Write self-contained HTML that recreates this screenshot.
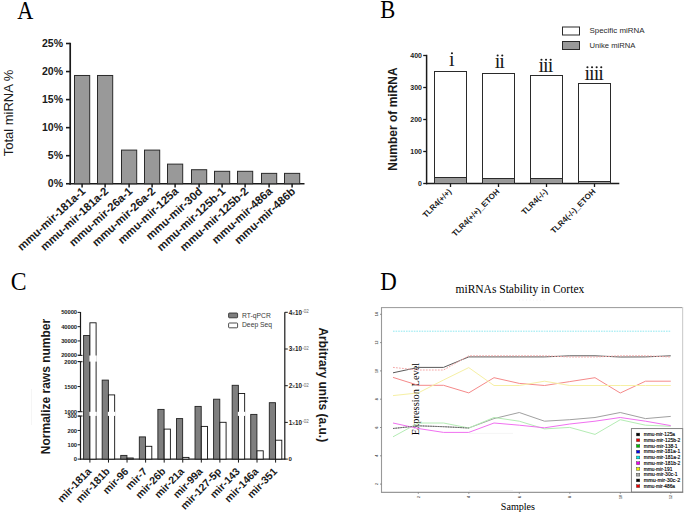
<!DOCTYPE html>
<html><head><meta charset="utf-8"><title>Figure</title>
<style>html,body{margin:0;padding:0;background:#fff;} svg{display:block;}</style>
</head><body>
<svg width="685" height="514" viewBox="0 0 685 514">
<rect width="685" height="514" fill="#fff"/>
<text transform="translate(17.3,18.75) scale(0.92,1)" font-family='"Liberation Serif", serif' font-size="24.2" fill="#000">A</text>
<line x1="70.2" y1="42.8" x2="70.2" y2="184.55" stroke="#1a1a1a" stroke-width="1.7"/>
<line x1="69.4" y1="183.75" x2="304.5" y2="183.75" stroke="#1a1a1a" stroke-width="1.7"/>
<line x1="66" y1="183.75" x2="70.2" y2="183.75" stroke="#1a1a1a" stroke-width="1.6"/>
<text x="63" y="186.85" text-anchor="end" font-family='"Liberation Sans", sans-serif' font-size="10.5" font-weight="bold" fill="#1a1a1a">0%</text>
<line x1="66" y1="155.7" x2="70.2" y2="155.7" stroke="#1a1a1a" stroke-width="1.6"/>
<text x="63" y="158.8" text-anchor="end" font-family='"Liberation Sans", sans-serif' font-size="10.5" font-weight="bold" fill="#1a1a1a">5%</text>
<line x1="66" y1="127.65" x2="70.2" y2="127.65" stroke="#1a1a1a" stroke-width="1.6"/>
<text x="63" y="130.75" text-anchor="end" font-family='"Liberation Sans", sans-serif' font-size="10.5" font-weight="bold" fill="#1a1a1a">10%</text>
<line x1="66" y1="99.6" x2="70.2" y2="99.6" stroke="#1a1a1a" stroke-width="1.6"/>
<text x="63" y="102.7" text-anchor="end" font-family='"Liberation Sans", sans-serif' font-size="10.5" font-weight="bold" fill="#1a1a1a">15%</text>
<line x1="66" y1="71.55" x2="70.2" y2="71.55" stroke="#1a1a1a" stroke-width="1.6"/>
<text x="63" y="74.65" text-anchor="end" font-family='"Liberation Sans", sans-serif' font-size="10.5" font-weight="bold" fill="#1a1a1a">20%</text>
<line x1="66" y1="43.5" x2="70.2" y2="43.5" stroke="#1a1a1a" stroke-width="1.6"/>
<text x="63" y="46.6" text-anchor="end" font-family='"Liberation Sans", sans-serif' font-size="10.5" font-weight="bold" fill="#1a1a1a">25%</text>
<rect x="74.5" y="75.48" width="15.2" height="108.27" fill="#999" stroke="#2a2a2a" stroke-width="1"/>
<line x1="82.1" y1="183.75" x2="82.1" y2="187.55" stroke="#1a1a1a" stroke-width="1.5"/>
<text transform="translate(86.1,192.25) rotate(-42.5)" text-anchor="end" font-family='"Liberation Sans", sans-serif' font-size="11.3" font-weight="bold" fill="#1a1a1a">mmu-mir-181a-1</text>
<rect x="97.5" y="75.48" width="15.2" height="108.27" fill="#999" stroke="#2a2a2a" stroke-width="1"/>
<line x1="105.1" y1="183.75" x2="105.1" y2="187.55" stroke="#1a1a1a" stroke-width="1.5"/>
<text transform="translate(109.1,192.25) rotate(-42.5)" text-anchor="end" font-family='"Liberation Sans", sans-serif' font-size="11.3" font-weight="bold" fill="#1a1a1a">mmu-mir-181a-2</text>
<rect x="121.5" y="150.09" width="15.2" height="33.66" fill="#999" stroke="#2a2a2a" stroke-width="1"/>
<line x1="129.1" y1="183.75" x2="129.1" y2="187.55" stroke="#1a1a1a" stroke-width="1.5"/>
<text transform="translate(133.1,192.25) rotate(-42.5)" text-anchor="end" font-family='"Liberation Sans", sans-serif' font-size="11.3" font-weight="bold" fill="#1a1a1a">mmu-mir-26a-1</text>
<rect x="144.5" y="150.09" width="15.2" height="33.66" fill="#999" stroke="#2a2a2a" stroke-width="1"/>
<line x1="152.1" y1="183.75" x2="152.1" y2="187.55" stroke="#1a1a1a" stroke-width="1.5"/>
<text transform="translate(156.1,192.25) rotate(-42.5)" text-anchor="end" font-family='"Liberation Sans", sans-serif' font-size="11.3" font-weight="bold" fill="#1a1a1a">mmu-mir-26a-2</text>
<rect x="167.5" y="164.12" width="15.2" height="19.63" fill="#999" stroke="#2a2a2a" stroke-width="1"/>
<line x1="175.1" y1="183.75" x2="175.1" y2="187.55" stroke="#1a1a1a" stroke-width="1.5"/>
<text transform="translate(179.1,192.25) rotate(-42.5)" text-anchor="end" font-family='"Liberation Sans", sans-serif' font-size="11.3" font-weight="bold" fill="#1a1a1a">mmu-mir-125a</text>
<rect x="191.5" y="169.72" width="15.2" height="14.03" fill="#999" stroke="#2a2a2a" stroke-width="1"/>
<line x1="199.1" y1="183.75" x2="199.1" y2="187.55" stroke="#1a1a1a" stroke-width="1.5"/>
<text transform="translate(203.1,192.25) rotate(-42.5)" text-anchor="end" font-family='"Liberation Sans", sans-serif' font-size="11.3" font-weight="bold" fill="#1a1a1a">mmu-mir-30d</text>
<rect x="214.5" y="171.3" width="15.2" height="12.45" fill="#999" stroke="#2a2a2a" stroke-width="1"/>
<line x1="222.1" y1="183.75" x2="222.1" y2="187.55" stroke="#1a1a1a" stroke-width="1.5"/>
<text transform="translate(226.1,192.25) rotate(-42.5)" text-anchor="end" font-family='"Liberation Sans", sans-serif' font-size="11.3" font-weight="bold" fill="#1a1a1a">mmu-mir-125b-1</text>
<rect x="237.5" y="171.3" width="15.2" height="12.45" fill="#999" stroke="#2a2a2a" stroke-width="1"/>
<line x1="245.1" y1="183.75" x2="245.1" y2="187.55" stroke="#1a1a1a" stroke-width="1.5"/>
<text transform="translate(249.1,192.25) rotate(-42.5)" text-anchor="end" font-family='"Liberation Sans", sans-serif' font-size="11.3" font-weight="bold" fill="#1a1a1a">mmu-mir-125b-2</text>
<rect x="261.5" y="173.37" width="15.2" height="10.38" fill="#999" stroke="#2a2a2a" stroke-width="1"/>
<line x1="269.1" y1="183.75" x2="269.1" y2="187.55" stroke="#1a1a1a" stroke-width="1.5"/>
<text transform="translate(273.1,192.25) rotate(-42.5)" text-anchor="end" font-family='"Liberation Sans", sans-serif' font-size="11.3" font-weight="bold" fill="#1a1a1a">mmu-mir-486a</text>
<rect x="284.5" y="173.37" width="15.2" height="10.38" fill="#999" stroke="#2a2a2a" stroke-width="1"/>
<line x1="292.1" y1="183.75" x2="292.1" y2="187.55" stroke="#1a1a1a" stroke-width="1.5"/>
<text transform="translate(296.1,192.25) rotate(-42.5)" text-anchor="end" font-family='"Liberation Sans", sans-serif' font-size="11.3" font-weight="bold" fill="#1a1a1a">mmu-mir-486b</text>
<text transform="translate(13.2,113) rotate(-90)" text-anchor="middle" font-family='"Liberation Sans", sans-serif' font-size="13" fill="#1a1a1a">Total miRNA %</text>
<text transform="translate(380.3,17.75) scale(0.91,1)" font-family='"Liberation Serif", serif' font-size="24.8" fill="#000">B</text>
<line x1="426.6" y1="54.8" x2="426.6" y2="184.3" stroke="#1a1a1a" stroke-width="1.5"/>
<line x1="425.90000000000003" y1="183.5" x2="619.3" y2="183.5" stroke="#1a1a1a" stroke-width="1.5"/>
<line x1="423.2" y1="183.5" x2="426.6" y2="183.5" stroke="#1a1a1a" stroke-width="1.3"/>
<text x="422" y="186" text-anchor="end" font-family='"Liberation Sans", sans-serif' font-size="7" font-weight="bold" fill="#1a1a1a">0</text>
<line x1="423.2" y1="151.5" x2="426.6" y2="151.5" stroke="#1a1a1a" stroke-width="1.3"/>
<text x="422" y="154" text-anchor="end" font-family='"Liberation Sans", sans-serif' font-size="7" font-weight="bold" fill="#1a1a1a">100</text>
<line x1="423.2" y1="119.5" x2="426.6" y2="119.5" stroke="#1a1a1a" stroke-width="1.3"/>
<text x="422" y="122" text-anchor="end" font-family='"Liberation Sans", sans-serif' font-size="7" font-weight="bold" fill="#1a1a1a">200</text>
<line x1="423.2" y1="87.5" x2="426.6" y2="87.5" stroke="#1a1a1a" stroke-width="1.3"/>
<text x="422" y="90" text-anchor="end" font-family='"Liberation Sans", sans-serif' font-size="7" font-weight="bold" fill="#1a1a1a">300</text>
<line x1="423.2" y1="55.5" x2="426.6" y2="55.5" stroke="#1a1a1a" stroke-width="1.3"/>
<text x="422" y="58" text-anchor="end" font-family='"Liberation Sans", sans-serif' font-size="7" font-weight="bold" fill="#1a1a1a">400</text>
<rect x="434.5" y="71.5" width="32" height="112" fill="#fff" stroke="#2a2a2a" stroke-width="1"/>
<rect x="434.5" y="177.5" width="32" height="6" fill="#999" stroke="#2a2a2a" stroke-width="1"/>
<line x1="450.5" y1="183.5" x2="450.5" y2="187.0" stroke="#1a1a1a" stroke-width="1.3"/>
<text transform="translate(452,192.1) rotate(-45)" text-anchor="end" font-family='"Liberation Sans", sans-serif' font-size="8" font-weight="bold" fill="#1a1a1a">TLR4(+/+)</text>
<text x="451.8" y="65.9" text-anchor="middle" font-family='"Liberation Serif", serif' font-size="20" fill="#1a1a1a">&#305;</text>
<circle cx="451.95" cy="53.3" r="1.05" fill="#1a1a1a"/>
<rect x="482.5" y="73.5" width="32" height="110" fill="#fff" stroke="#2a2a2a" stroke-width="1"/>
<rect x="482.5" y="178.5" width="32" height="5" fill="#999" stroke="#2a2a2a" stroke-width="1"/>
<line x1="498.5" y1="183.5" x2="498.5" y2="187.0" stroke="#1a1a1a" stroke-width="1.3"/>
<text transform="translate(500,192.1) rotate(-45)" text-anchor="end" font-family='"Liberation Sans", sans-serif' font-size="8" font-weight="bold" fill="#1a1a1a">TLR4(+/+)_ETOH</text>
<text x="497.5" y="68.1" text-anchor="middle" font-family='"Liberation Serif", serif' font-size="20" fill="#1a1a1a">&#305;</text>
<circle cx="497.65" cy="55.5" r="1.05" fill="#1a1a1a"/>
<text x="502.1" y="68.1" text-anchor="middle" font-family='"Liberation Serif", serif' font-size="20" fill="#1a1a1a">&#305;</text>
<circle cx="502.25" cy="55.5" r="1.05" fill="#1a1a1a"/>
<rect x="530.5" y="75.5" width="32" height="108" fill="#fff" stroke="#2a2a2a" stroke-width="1"/>
<rect x="530.5" y="178.5" width="32" height="5" fill="#999" stroke="#2a2a2a" stroke-width="1"/>
<line x1="546.5" y1="183.5" x2="546.5" y2="187.0" stroke="#1a1a1a" stroke-width="1.3"/>
<text transform="translate(548,192.1) rotate(-45)" text-anchor="end" font-family='"Liberation Sans", sans-serif' font-size="8" font-weight="bold" fill="#1a1a1a">TLR4(-/-)</text>
<text x="541.3" y="72.3" text-anchor="middle" font-family='"Liberation Serif", serif' font-size="20" fill="#1a1a1a">&#305;</text>
<circle cx="541.45" cy="59.7" r="1.05" fill="#1a1a1a"/>
<text x="545.9" y="72.3" text-anchor="middle" font-family='"Liberation Serif", serif' font-size="20" fill="#1a1a1a">&#305;</text>
<circle cx="546.05" cy="59.7" r="1.05" fill="#1a1a1a"/>
<text x="550.5" y="72.3" text-anchor="middle" font-family='"Liberation Serif", serif' font-size="20" fill="#1a1a1a">&#305;</text>
<circle cx="550.65" cy="59.7" r="1.05" fill="#1a1a1a"/>
<rect x="578.5" y="83.5" width="32" height="100" fill="#fff" stroke="#2a2a2a" stroke-width="1"/>
<rect x="578.5" y="181.5" width="32" height="2" fill="#999" stroke="#2a2a2a" stroke-width="1"/>
<line x1="594.5" y1="183.5" x2="594.5" y2="187.0" stroke="#1a1a1a" stroke-width="1.3"/>
<text transform="translate(596,192.1) rotate(-45)" text-anchor="end" font-family='"Liberation Sans", sans-serif' font-size="8" font-weight="bold" fill="#1a1a1a">TLR4(-/-)_ETOH</text>
<text x="587.3" y="79.9" text-anchor="middle" font-family='"Liberation Serif", serif' font-size="20" fill="#1a1a1a">&#305;</text>
<circle cx="587.45" cy="67.3" r="1.05" fill="#1a1a1a"/>
<text x="591.9" y="79.9" text-anchor="middle" font-family='"Liberation Serif", serif' font-size="20" fill="#1a1a1a">&#305;</text>
<circle cx="592.05" cy="67.3" r="1.05" fill="#1a1a1a"/>
<text x="596.5" y="79.9" text-anchor="middle" font-family='"Liberation Serif", serif' font-size="20" fill="#1a1a1a">&#305;</text>
<circle cx="596.65" cy="67.3" r="1.05" fill="#1a1a1a"/>
<text x="601.1" y="79.9" text-anchor="middle" font-family='"Liberation Serif", serif' font-size="20" fill="#1a1a1a">&#305;</text>
<circle cx="601.25" cy="67.3" r="1.05" fill="#1a1a1a"/>
<text transform="translate(396.9,119) rotate(-90)" text-anchor="middle" font-family='"Liberation Sans", sans-serif' font-size="12" font-weight="bold" fill="#1a1a1a">Number of miRNA</text>
<rect x="562.5" y="27" width="17" height="8" fill="#fff" stroke="#2a2a2a" stroke-width="1"/>
<rect x="562.5" y="41.5" width="17" height="8" fill="#999" stroke="#2a2a2a" stroke-width="1"/>
<text x="589.5" y="32.9" font-family='"Liberation Sans", sans-serif' font-size="8" fill="#2a2a2a" textLength="55" lengthAdjust="spacingAndGlyphs">Specific miRNA</text>
<text x="589.5" y="48" font-family='"Liberation Sans", sans-serif' font-size="8" fill="#2a2a2a" textLength="45.8" lengthAdjust="spacingAndGlyphs">Unike miRNA</text>
<text transform="translate(10.8,289.5) scale(0.92,1)" font-family='"Liberation Serif", serif' font-size="25.8" fill="#000">C</text>
<line x1="80.5" y1="312.0" x2="80.5" y2="355.4" stroke="#1a1a1a" stroke-width="1.2"/>
<line x1="80.5" y1="361.7" x2="80.5" y2="411.7" stroke="#1a1a1a" stroke-width="1.2"/>
<line x1="80.5" y1="416.0" x2="80.5" y2="459.8" stroke="#1a1a1a" stroke-width="1.2"/>
<line x1="78.3" y1="355.4" x2="82.5" y2="355.4" stroke="#1a1a1a" stroke-width="1"/>
<line x1="78.3" y1="361.7" x2="82.5" y2="361.7" stroke="#1a1a1a" stroke-width="1"/>
<line x1="78.3" y1="411.7" x2="82.5" y2="411.7" stroke="#1a1a1a" stroke-width="1"/>
<line x1="78.3" y1="416.0" x2="82.5" y2="416.0" stroke="#1a1a1a" stroke-width="1"/>
<line x1="77.6" y1="312.39" x2="80.5" y2="312.39" stroke="#1a1a1a" stroke-width="1"/>
<text x="77" y="314.49" text-anchor="end" font-family='"Liberation Sans", sans-serif' font-size="5.8" font-weight="bold" fill="#1a1a1a" letter-spacing="-0.05">50000</text>
<line x1="77.6" y1="326.66" x2="80.5" y2="326.66" stroke="#1a1a1a" stroke-width="1"/>
<text x="77" y="328.76" text-anchor="end" font-family='"Liberation Sans", sans-serif' font-size="5.8" font-weight="bold" fill="#1a1a1a" letter-spacing="-0.05">40000</text>
<line x1="77.6" y1="340.93" x2="80.5" y2="340.93" stroke="#1a1a1a" stroke-width="1"/>
<text x="77" y="343.03" text-anchor="end" font-family='"Liberation Sans", sans-serif' font-size="5.8" font-weight="bold" fill="#1a1a1a" letter-spacing="-0.05">30000</text>
<line x1="77.6" y1="355.2" x2="80.5" y2="355.2" stroke="#1a1a1a" stroke-width="1"/>
<text x="77" y="357.3" text-anchor="end" font-family='"Liberation Sans", sans-serif' font-size="5.8" font-weight="bold" fill="#1a1a1a" letter-spacing="-0.05">20000</text>
<line x1="77.6" y1="361.5" x2="80.5" y2="361.5" stroke="#1a1a1a" stroke-width="1"/>
<text x="77" y="363.6" text-anchor="end" font-family='"Liberation Sans", sans-serif' font-size="5.8" font-weight="bold" fill="#1a1a1a" letter-spacing="-0.05">2000</text>
<line x1="77.6" y1="386.55" x2="80.5" y2="386.55" stroke="#1a1a1a" stroke-width="1"/>
<text x="77" y="388.65" text-anchor="end" font-family='"Liberation Sans", sans-serif' font-size="5.8" font-weight="bold" fill="#1a1a1a" letter-spacing="-0.05">1500</text>
<line x1="77.6" y1="411.6" x2="80.5" y2="411.6" stroke="#1a1a1a" stroke-width="1"/>
<text x="77" y="413.7" text-anchor="end" font-family='"Liberation Sans", sans-serif' font-size="5.8" font-weight="bold" fill="#1a1a1a" letter-spacing="-0.05">1000</text>
<line x1="77.6" y1="416.11" x2="80.5" y2="416.11" stroke="#1a1a1a" stroke-width="1"/>
<text x="77" y="418.21" text-anchor="end" font-family='"Liberation Sans", sans-serif' font-size="5.8" font-weight="bold" fill="#1a1a1a" letter-spacing="-0.05">300</text>
<line x1="77.6" y1="430.44" x2="80.5" y2="430.44" stroke="#1a1a1a" stroke-width="1"/>
<text x="77" y="432.54" text-anchor="end" font-family='"Liberation Sans", sans-serif' font-size="5.8" font-weight="bold" fill="#1a1a1a" letter-spacing="-0.05">200</text>
<line x1="77.6" y1="444.77" x2="80.5" y2="444.77" stroke="#1a1a1a" stroke-width="1"/>
<text x="77" y="446.87" text-anchor="end" font-family='"Liberation Sans", sans-serif' font-size="5.8" font-weight="bold" fill="#1a1a1a" letter-spacing="-0.05">100</text>
<line x1="77.6" y1="459.1" x2="80.5" y2="459.1" stroke="#1a1a1a" stroke-width="1"/>
<text x="77" y="461.2" text-anchor="end" font-family='"Liberation Sans", sans-serif' font-size="5.8" font-weight="bold" fill="#1a1a1a" letter-spacing="-0.05">0</text>
<line x1="80.0" y1="459.1" x2="285.3" y2="459.1" stroke="#1a1a1a" stroke-width="1.2"/>
<line x1="284.8" y1="312.2" x2="284.8" y2="459.6" stroke="#1a1a1a" stroke-width="1.2"/>
<line x1="284.8" y1="459.1" x2="287.8" y2="459.1" stroke="#1a1a1a" stroke-width="1"/>
<text x="288.6" y="461.2" font-family='"Liberation Sans", sans-serif' font-size="6" font-weight="bold" fill="#1a1a1a">0</text>
<line x1="284.8" y1="422.4" x2="287.8" y2="422.4" stroke="#1a1a1a" stroke-width="1"/>
<text x="288.7" y="424.6" font-family='"Liberation Sans", sans-serif' font-size="6.3" font-weight="bold" fill="#1a1a1a">1<tspan font-size="5.6" font-weight="normal">x</tspan>10<tspan font-size="4.5" font-weight="normal" fill="#666" dx="0.2" dy="-1.3">-02</tspan></text>
<line x1="284.8" y1="385.7" x2="287.8" y2="385.7" stroke="#1a1a1a" stroke-width="1"/>
<text x="288.7" y="387.9" font-family='"Liberation Sans", sans-serif' font-size="6.3" font-weight="bold" fill="#1a1a1a">2<tspan font-size="5.6" font-weight="normal">x</tspan>10<tspan font-size="4.5" font-weight="normal" fill="#666" dx="0.2" dy="-1.3">-02</tspan></text>
<line x1="284.8" y1="349" x2="287.8" y2="349" stroke="#1a1a1a" stroke-width="1"/>
<text x="288.7" y="351.2" font-family='"Liberation Sans", sans-serif' font-size="6.3" font-weight="bold" fill="#1a1a1a">3<tspan font-size="5.6" font-weight="normal">x</tspan>10<tspan font-size="4.5" font-weight="normal" fill="#666" dx="0.2" dy="-1.3">-02</tspan></text>
<line x1="284.8" y1="312.3" x2="287.8" y2="312.3" stroke="#1a1a1a" stroke-width="1"/>
<text x="288.7" y="314.5" font-family='"Liberation Sans", sans-serif' font-size="6.3" font-weight="bold" fill="#1a1a1a">4<tspan font-size="5.6" font-weight="normal">x</tspan>10<tspan font-size="4.5" font-weight="normal" fill="#666" dx="0.2" dy="-1.3">-02</tspan></text>
<rect x="83.6" y="335.5" width="6.2" height="123.6" fill="#7f7f7f" stroke="#222" stroke-width="0.9"/>
<rect x="89.9" y="322.8" width="6.2" height="136.3" fill="#fff" stroke="#111" stroke-width="0.9"/>
<rect x="89.3" y="355.5" width="7.5" height="6.1" fill="#fff"/>
<rect x="89.3" y="411.8" width="7.5" height="4.1" fill="#fff"/>
<line x1="89.9" y1="459.1" x2="89.9" y2="462.6" stroke="#1a1a1a" stroke-width="1"/>
<text transform="translate(92,472) rotate(-46)" text-anchor="end" font-family='"Liberation Sans", sans-serif' font-size="10.5" font-weight="bold" fill="#1a1a1a">mir-181a</text>
<rect x="102.17" y="380.1" width="6.2" height="79" fill="#7f7f7f" stroke="#222" stroke-width="0.9"/>
<rect x="108.47" y="394.9" width="6.2" height="64.2" fill="#fff" stroke="#111" stroke-width="0.9"/>
<rect x="107.87" y="411.8" width="7.5" height="4.1" fill="#fff"/>
<line x1="108.47" y1="459.1" x2="108.47" y2="462.6" stroke="#1a1a1a" stroke-width="1"/>
<text transform="translate(110.57,472) rotate(-46)" text-anchor="end" font-family='"Liberation Sans", sans-serif' font-size="10.5" font-weight="bold" fill="#1a1a1a">mir-181b</text>
<rect x="120.74" y="455.4" width="6.2" height="3.7" fill="#7f7f7f" stroke="#222" stroke-width="0.9"/>
<rect x="127.04" y="458" width="6.2" height="1.1" fill="#fff" stroke="#111" stroke-width="0.9"/>
<line x1="127.04" y1="459.1" x2="127.04" y2="462.6" stroke="#1a1a1a" stroke-width="1"/>
<text transform="translate(129.14,472) rotate(-46)" text-anchor="end" font-family='"Liberation Sans", sans-serif' font-size="10.5" font-weight="bold" fill="#1a1a1a">mir-96</text>
<rect x="139.31" y="436.9" width="6.2" height="22.2" fill="#7f7f7f" stroke="#222" stroke-width="0.9"/>
<rect x="145.61" y="446.3" width="6.2" height="12.8" fill="#fff" stroke="#111" stroke-width="0.9"/>
<line x1="145.61" y1="459.1" x2="145.61" y2="462.6" stroke="#1a1a1a" stroke-width="1"/>
<text transform="translate(147.71,472) rotate(-46)" text-anchor="end" font-family='"Liberation Sans", sans-serif' font-size="10.5" font-weight="bold" fill="#1a1a1a">mir-7</text>
<rect x="157.88" y="409.4" width="6.2" height="49.7" fill="#7f7f7f" stroke="#222" stroke-width="0.9"/>
<rect x="164.18" y="429.1" width="6.2" height="30" fill="#fff" stroke="#111" stroke-width="0.9"/>
<line x1="164.18" y1="459.1" x2="164.18" y2="462.6" stroke="#1a1a1a" stroke-width="1"/>
<text transform="translate(166.28,472) rotate(-46)" text-anchor="end" font-family='"Liberation Sans", sans-serif' font-size="10.5" font-weight="bold" fill="#1a1a1a">mir-26b</text>
<rect x="176.45" y="418.6" width="6.2" height="40.5" fill="#7f7f7f" stroke="#222" stroke-width="0.9"/>
<rect x="182.75" y="457.4" width="6.2" height="1.7" fill="#fff" stroke="#111" stroke-width="0.9"/>
<line x1="182.75" y1="459.1" x2="182.75" y2="462.6" stroke="#1a1a1a" stroke-width="1"/>
<text transform="translate(184.85,472) rotate(-46)" text-anchor="end" font-family='"Liberation Sans", sans-serif' font-size="10.5" font-weight="bold" fill="#1a1a1a">mir-21a</text>
<rect x="195.02" y="406.4" width="6.2" height="52.7" fill="#7f7f7f" stroke="#222" stroke-width="0.9"/>
<rect x="201.32" y="426.4" width="6.2" height="32.7" fill="#fff" stroke="#111" stroke-width="0.9"/>
<line x1="201.32" y1="459.1" x2="201.32" y2="462.6" stroke="#1a1a1a" stroke-width="1"/>
<text transform="translate(203.42,472) rotate(-46)" text-anchor="end" font-family='"Liberation Sans", sans-serif' font-size="10.5" font-weight="bold" fill="#1a1a1a">mir-99a</text>
<rect x="213.59" y="399.2" width="6.2" height="59.9" fill="#7f7f7f" stroke="#222" stroke-width="0.9"/>
<rect x="219.89" y="422.3" width="6.2" height="36.8" fill="#fff" stroke="#111" stroke-width="0.9"/>
<line x1="219.89" y1="459.1" x2="219.89" y2="462.6" stroke="#1a1a1a" stroke-width="1"/>
<text transform="translate(221.99,472) rotate(-46)" text-anchor="end" font-family='"Liberation Sans", sans-serif' font-size="10.5" font-weight="bold" fill="#1a1a1a">mir-127-5p</text>
<rect x="232.16" y="385.3" width="6.2" height="73.8" fill="#7f7f7f" stroke="#222" stroke-width="0.9"/>
<rect x="238.46" y="393.5" width="6.2" height="65.6" fill="#fff" stroke="#111" stroke-width="0.9"/>
<rect x="237.86" y="411.8" width="7.5" height="4.1" fill="#fff"/>
<line x1="238.46" y1="459.1" x2="238.46" y2="462.6" stroke="#1a1a1a" stroke-width="1"/>
<text transform="translate(240.56,472) rotate(-46)" text-anchor="end" font-family='"Liberation Sans", sans-serif' font-size="10.5" font-weight="bold" fill="#1a1a1a">mir-143</text>
<rect x="250.73" y="414.4" width="6.2" height="44.7" fill="#7f7f7f" stroke="#222" stroke-width="0.9"/>
<rect x="257.03" y="450.8" width="6.2" height="8.3" fill="#fff" stroke="#111" stroke-width="0.9"/>
<line x1="257.03" y1="459.1" x2="257.03" y2="462.6" stroke="#1a1a1a" stroke-width="1"/>
<text transform="translate(259.13,472) rotate(-46)" text-anchor="end" font-family='"Liberation Sans", sans-serif' font-size="10.5" font-weight="bold" fill="#1a1a1a">mir-146a</text>
<rect x="269.3" y="402.7" width="6.2" height="56.4" fill="#7f7f7f" stroke="#222" stroke-width="0.9"/>
<rect x="275.6" y="440.2" width="6.2" height="18.9" fill="#fff" stroke="#111" stroke-width="0.9"/>
<line x1="275.6" y1="459.1" x2="275.6" y2="462.6" stroke="#1a1a1a" stroke-width="1"/>
<text transform="translate(277.7,472) rotate(-46)" text-anchor="end" font-family='"Liberation Sans", sans-serif' font-size="10.5" font-weight="bold" fill="#1a1a1a">mir-351</text>
<rect x="228.6" y="313" width="9" height="4.8" rx="0.8" fill="#7f7f7f" stroke="#222" stroke-width="0.8"/>
<rect x="228.6" y="323" width="9" height="4.8" rx="0.8" fill="#fff" stroke="#222" stroke-width="0.8"/>
<text x="242" y="317.5" font-family='"Liberation Sans", sans-serif' font-size="6.75" fill="#3a3a3a">RT-qPCR</text>
<text x="242" y="327.4" font-family='"Liberation Sans", sans-serif' font-size="6.75" fill="#3a3a3a">Deep Seq</text>
<text transform="translate(50.1,386.5) rotate(-90)" text-anchor="middle" font-family='"Liberation Sans", sans-serif' font-size="12" font-weight="bold" fill="#1a1a1a">Normalize raws number</text>
<text transform="translate(319.2,384.8) rotate(90)" text-anchor="middle" font-family='"Liberation Sans", sans-serif' font-size="12" font-weight="bold" fill="#1a1a1a">Arbitrary units (a.u.)</text>
<text transform="translate(380.2,289.7) scale(0.92,1)" font-family='"Liberation Serif", serif' font-size="24.9" fill="#000">D</text>
<text x="455.5" y="293" font-family='"Liberation Serif", serif' font-size="11.5" fill="#000">miRNAs Stability in Cortex</text>
<line x1="381.5" y1="307.6" x2="682.6" y2="307.6" stroke="#999" stroke-width="1"/>
<line x1="682.6" y1="307.1" x2="682.6" y2="492.4" stroke="#d0d0d0" stroke-width="1.2"/>
<line x1="381.5" y1="307.1" x2="381.5" y2="492.9" stroke="#999" stroke-width="1.1"/>
<line x1="381" y1="492.4" x2="683.2" y2="492.4" stroke="#999" stroke-width="1.2"/>
<line x1="380" y1="314.3" x2="381.5" y2="314.3" stroke="#777" stroke-width="0.8"/>
<text transform="translate(377.9,314.3) rotate(-90)" text-anchor="middle" font-family='"Liberation Sans", sans-serif' font-size="3.6" font-weight="bold" fill="#555">14</text>
<line x1="380" y1="342.6" x2="381.5" y2="342.6" stroke="#777" stroke-width="0.8"/>
<text transform="translate(377.9,342.6) rotate(-90)" text-anchor="middle" font-family='"Liberation Sans", sans-serif' font-size="3.6" font-weight="bold" fill="#555">12</text>
<line x1="380" y1="370.9" x2="381.5" y2="370.9" stroke="#777" stroke-width="0.8"/>
<text transform="translate(377.9,370.9) rotate(-90)" text-anchor="middle" font-family='"Liberation Sans", sans-serif' font-size="3.6" font-weight="bold" fill="#555">10</text>
<line x1="380" y1="399.2" x2="381.5" y2="399.2" stroke="#777" stroke-width="0.8"/>
<text transform="translate(377.9,399.2) rotate(-90)" text-anchor="middle" font-family='"Liberation Sans", sans-serif' font-size="3.6" font-weight="bold" fill="#555">8</text>
<line x1="380" y1="427.5" x2="381.5" y2="427.5" stroke="#777" stroke-width="0.8"/>
<text transform="translate(377.9,427.5) rotate(-90)" text-anchor="middle" font-family='"Liberation Sans", sans-serif' font-size="3.6" font-weight="bold" fill="#555">6</text>
<line x1="380" y1="455.8" x2="381.5" y2="455.8" stroke="#777" stroke-width="0.8"/>
<text transform="translate(377.9,455.8) rotate(-90)" text-anchor="middle" font-family='"Liberation Sans", sans-serif' font-size="3.6" font-weight="bold" fill="#555">4</text>
<line x1="380" y1="484.1" x2="381.5" y2="484.1" stroke="#777" stroke-width="0.8"/>
<text transform="translate(377.9,484.1) rotate(-90)" text-anchor="middle" font-family='"Liberation Sans", sans-serif' font-size="3.6" font-weight="bold" fill="#555">2</text>
<line x1="418.3" y1="492.4" x2="418.3" y2="493.8" stroke="#777" stroke-width="0.8"/>
<text transform="translate(419.5,496.9) rotate(-90)" text-anchor="middle" font-family='"Liberation Sans", sans-serif' font-size="3.6" font-weight="bold" fill="#555">2</text>
<line x1="468.8" y1="492.4" x2="468.8" y2="493.8" stroke="#777" stroke-width="0.8"/>
<text transform="translate(470,496.9) rotate(-90)" text-anchor="middle" font-family='"Liberation Sans", sans-serif' font-size="3.6" font-weight="bold" fill="#555">4</text>
<line x1="519.3" y1="492.4" x2="519.3" y2="493.8" stroke="#777" stroke-width="0.8"/>
<text transform="translate(520.5,496.9) rotate(-90)" text-anchor="middle" font-family='"Liberation Sans", sans-serif' font-size="3.6" font-weight="bold" fill="#555">6</text>
<line x1="569.8" y1="492.4" x2="569.8" y2="493.8" stroke="#777" stroke-width="0.8"/>
<text transform="translate(571,496.9) rotate(-90)" text-anchor="middle" font-family='"Liberation Sans", sans-serif' font-size="3.6" font-weight="bold" fill="#555">8</text>
<line x1="620.3" y1="492.4" x2="620.3" y2="493.8" stroke="#777" stroke-width="0.8"/>
<text transform="translate(621.5,496.9) rotate(-90)" text-anchor="middle" font-family='"Liberation Sans", sans-serif' font-size="3.6" font-weight="bold" fill="#555">10</text>
<line x1="670.8" y1="492.4" x2="670.8" y2="493.8" stroke="#777" stroke-width="0.8"/>
<text transform="translate(672,496.9) rotate(-90)" text-anchor="middle" font-family='"Liberation Sans", sans-serif' font-size="3.6" font-weight="bold" fill="#555">12</text>
<text x="500.8" y="510.1" font-family='"Liberation Serif", serif' font-size="10.1" fill="#000">Samples</text>
<text transform="translate(419,399) rotate(-90)" text-anchor="middle" font-family='"Liberation Serif", serif' font-size="10.4" fill="#000">Expression Level</text>
<polyline points="393,372.8 418.25,367.4 443.5,367.4 468.75,356.9 494,356.9 519.25,356.9 544.5,356.9 569.75,355.8 595,355.8 620.25,357 645.5,356.9 670.75,355.8" fill="none" stroke="#5a5a5a" stroke-width="1"/>
<polyline points="393,367.4 418.25,370 443.5,370 468.75,355.8 494,355.8 519.25,355.8 544.5,355.8 569.75,357 595,357 620.25,355.8 645.5,355.8 670.75,357" fill="none" stroke="#f4a8a8" stroke-width="1" stroke-dasharray="1.8,1.2"/>
<polyline points="393,377.4 418.25,385.3 443.5,385.3 468.75,392.9 494,377.7 519.25,383.4 544.5,385.5 569.75,381.6 595,377.7 620.25,393 645.5,381.2 670.75,381.2" fill="none" stroke="#f58a8a" stroke-width="1"/>
<polyline points="393,395.6 418.25,392.9 443.5,380 468.75,367.6 494,385.5 519.25,385.5 544.5,381.2 569.75,385.5 595,385.5 620.25,385.5 645.5,385.5 670.75,385.5" fill="none" stroke="#f6f0a4" stroke-width="1"/>
<polyline points="393,331.2 418.25,331.2 443.5,331.2 468.75,331.2 494,331.2 519.25,331.2 544.5,331.2 569.75,331.2 595,331.2 620.25,331.2 645.5,331.2 670.75,331.2" fill="none" stroke="#90e8f0" stroke-width="1" stroke-dasharray="1.6,1"/>
<polyline points="393,428.5 418.25,425.8 443.5,426.7 468.75,428 494,418.6 519.25,412.5 544.5,421.2 569.75,419.7 595,417.5 620.25,412.5 645.5,418.6 670.75,416.4" fill="none" stroke="#a0a0a0" stroke-width="1"/>
<polyline points="393,436.8 418.25,423 443.5,423 468.75,428 494,417.5 519.25,421.2 544.5,428.9 569.75,427.4 595,434.4 620.25,419.7 645.5,425.2 670.75,426.3" fill="none" stroke="#b4ecb4" stroke-width="1"/>
<polyline points="393,423 418.25,428.5 443.5,432.4 468.75,432.4 494,423 519.25,425.2 544.5,427.8 569.75,424 595,421.2 620.25,417.5 645.5,421.2 670.75,425.6" fill="none" stroke="#f070f0" stroke-width="1"/>
<polyline points="393,428.5 418.25,425.8 443.5,426.7 468.75,428" fill="none" stroke="#666" stroke-width="1" stroke-dasharray="1.4,1.1"/>
<line x1="469.2" y1="490.6" x2="513" y2="490.6" stroke="#ececec" stroke-width="0.8"/>
<line x1="469.2" y1="433.4" x2="513" y2="433.4" stroke="#f2f2f2" stroke-width="0.8"/>
<line x1="519" y1="300" x2="546" y2="300" stroke="#e4e4e4" stroke-width="0.6" stroke-dasharray="1,2.5"/>
<line x1="31.5" y1="389" x2="31.5" y2="425" stroke="#f3f3f3" stroke-width="0.8"/>
<rect x="631.4" y="428.6" width="51.3" height="63.4" fill="#fff" stroke="#777" stroke-width="0.9"/>
<rect x="636.4" y="433.1" width="3.4" height="2.8" fill="#000" stroke="#333" stroke-width="0.4"/>
<text x="643.8" y="436.2" font-family='"Liberation Sans", sans-serif' font-size="4.9" fill="#000" stroke="#000" stroke-width="0.15" textLength="31.200000000000003" lengthAdjust="spacingAndGlyphs">mmu-mir-125a</text>
<rect x="636.4" y="438.84" width="3.4" height="2.8" fill="#e00" stroke="#333" stroke-width="0.4"/>
<text x="643.8" y="441.94" font-family='"Liberation Sans", sans-serif' font-size="4.9" fill="#000" stroke="#000" stroke-width="0.15" textLength="36.5" lengthAdjust="spacingAndGlyphs">mmu-mir-125b-2</text>
<rect x="636.4" y="444.58" width="3.4" height="2.8" fill="#0b0" stroke="#333" stroke-width="0.4"/>
<text x="643.8" y="447.68" font-family='"Liberation Sans", sans-serif' font-size="4.9" fill="#000" stroke="#000" stroke-width="0.15" textLength="33.800000000000004" lengthAdjust="spacingAndGlyphs">mmu-mir-138-1</text>
<rect x="636.4" y="450.32" width="3.4" height="2.8" fill="#00e" stroke="#333" stroke-width="0.4"/>
<text x="643.8" y="453.42" font-family='"Liberation Sans", sans-serif' font-size="4.9" fill="#000" stroke="#000" stroke-width="0.15" textLength="36.4" lengthAdjust="spacingAndGlyphs">mmu-mir-181a-1</text>
<rect x="636.4" y="456.06" width="3.4" height="2.8" fill="#0ee" stroke="#333" stroke-width="0.4"/>
<text x="643.8" y="459.16" font-family='"Liberation Sans", sans-serif' font-size="4.9" fill="#000" stroke="#000" stroke-width="0.15" textLength="36.5" lengthAdjust="spacingAndGlyphs">mmu-mir-181a-2</text>
<rect x="636.4" y="461.8" width="3.4" height="2.8" fill="#e0e" stroke="#333" stroke-width="0.4"/>
<text x="643.8" y="464.9" font-family='"Liberation Sans", sans-serif' font-size="4.9" fill="#000" stroke="#000" stroke-width="0.15" textLength="36.5" lengthAdjust="spacingAndGlyphs">mmu-mir-181b-2</text>
<rect x="636.4" y="467.54" width="3.4" height="2.8" fill="#ee0" stroke="#333" stroke-width="0.4"/>
<text x="643.8" y="470.64" font-family='"Liberation Sans", sans-serif' font-size="4.9" fill="#000" stroke="#000" stroke-width="0.15" textLength="28.6" lengthAdjust="spacingAndGlyphs">mmu-mir-191</text>
<rect x="636.4" y="473.28" width="3.4" height="2.8" fill="#aaa" stroke="#333" stroke-width="0.4"/>
<text x="643.8" y="476.38" font-family='"Liberation Sans", sans-serif' font-size="4.9" fill="#000" stroke="#000" stroke-width="0.15" textLength="33.800000000000004" lengthAdjust="spacingAndGlyphs">mmu-mir-30c-1</text>
<rect x="636.4" y="479.02" width="3.4" height="2.8" fill="#000" stroke="#333" stroke-width="0.4"/>
<text x="643.8" y="482.12" font-family='"Liberation Sans", sans-serif' font-size="4.9" fill="#000" stroke="#000" stroke-width="0.15" textLength="36.5" lengthAdjust="spacingAndGlyphs">mmu-mir-30c-2</text>
<rect x="636.4" y="484.76" width="3.4" height="2.8" fill="#e00" stroke="#333" stroke-width="0.4"/>
<text x="643.8" y="487.86" font-family='"Liberation Sans", sans-serif' font-size="4.9" fill="#000" stroke="#000" stroke-width="0.15" textLength="31.200000000000003" lengthAdjust="spacingAndGlyphs">mmu-mir-486a</text>
</svg>
</body></html>
